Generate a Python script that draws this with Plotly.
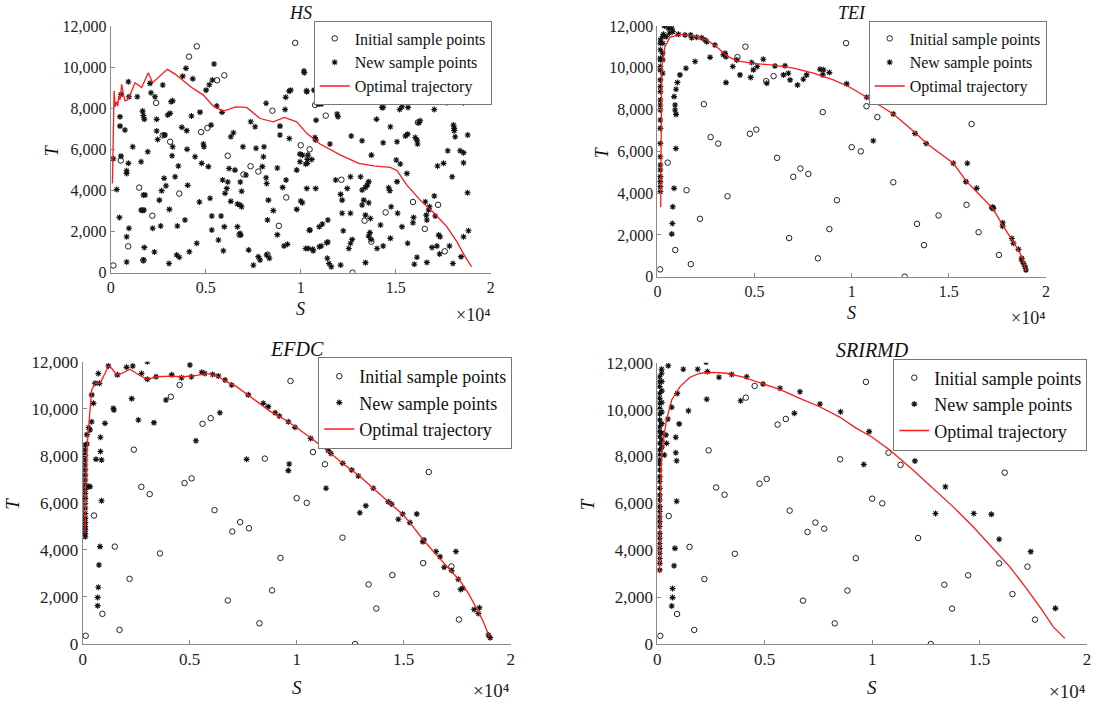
import plotly.graph_objects as go

FONT = "Liberation Serif"

# ---------------- data (S in units of 1e4) ----------------
S_init = [0.014, 0.053, 0.150, 0.092, 0.172, 0.219, 0.239, 0.274, 0.313, 0.361, 0.412, 0.453, 0.476, 0.509,
          0.560, 0.598, 0.616, 0.678, 0.699, 0.736, 0.777, 0.826, 0.851, 0.885, 0.924, 0.971, 1.000, 1.047,
          1.076, 1.132, 1.214, 1.234, 1.273, 1.336, 1.372, 1.447, 1.591, 1.617, 1.653, 1.723, 1.758, 1.802, 1.823]
T_init = [350, 5460, 4140, 1280, 600, 2770, 8260, 6680, 6370, 3850, 10510, 11010, 6840, 7040,
          9360, 9600, 5690, 1850, 4780, 5180, 4920, 880, 7880, 2280, 3660, 11180, 6200, 6000,
          8160, 7640, 4520, 8750, 0, 2530, 1510, 2930, 3440, 7310, 2130, 3300, 1040, 8920, 8450]

HS_new = [(0.014, 5540), (0.032, 4050), (0.046, 2690), (0.049, 7590), (0.049, 7130), (0.054, 5670), (0.075, 6940),
          (0.084, 4960), (0.084, 4830), (0.093, 5320), (0.093, 9290), (0.084, 1750), (0.096, 2160), (0.084, 520),
          (0.096, 8560), (0.054, 8670), (0.116, 6130), (0.140, 8560), (0.160, 5400), (0.168, 7860), (0.172, 7650),
          (0.177, 7470), (0.172, 3780), (0.181, 3780), (0.160, 3050), (0.168, 3020), (0.175, 3050), (0.177, 1230),
          (0.172, 620), (0.195, 5880), (0.207, 9210), (0.212, 8750), (0.233, 8560), (0.221, 2160), (0.230, 1010),
          (0.242, 7460), (0.242, 6890), (0.247, 6480), (0.256, 3530), (0.263, 2270), (0.268, 3990), (0.274, 9130),
          (0.281, 6700), (0.286, 6700), (0.281, 4590), (0.291, 4230), (0.300, 7670), (0.307, 450), (0.309, 3080),
          (0.312, 7750), (0.318, 8320), (0.326, 8360), (0.326, 6130), (0.323, 5690), (0.339, 4670), (0.351, 2270),
          (0.356, 5190), (0.347, 860), (0.361, 750), (0.374, 7070), (0.379, 9560), (0.391, 2560), (0.396, 9940),
          (0.400, 6910), (0.405, 4250), (0.402, 6000), (0.414, 1020), (0.425, 7620), (0.432, 9430), (0.444, 5640),
          (0.453, 1430), (0.467, 3440), (0.470, 7810), (0.479, 5320), (0.488, 6260), (0.491, 6130), (0.502, 8880),
          (0.514, 5160), (0.519, 9140), (0.523, 3620), (0.528, 7180), (0.532, 2760), (0.532, 2080), (0.535, 9370),
          (0.544, 10150), (0.558, 8110), (0.567, 1590), (0.581, 2760), (0.586, 7800), (0.593, 1070), (0.589, 4510),
          (0.598, 2240), (0.602, 3860), (0.611, 4100), (0.616, 4410), (0.623, 5070), (0.632, 3470), (0.632, 6610),
          (0.646, 6810), (0.654, 4990), (0.667, 2240), (0.667, 3340), (0.681, 3290), (0.689, 3210), (0.682, 4410),
          (0.689, 3960), (0.681, 1910), (0.684, 1830), (0.696, 6130), (0.712, 4750), (0.726, 1100), (0.737, 7340),
          (0.760, 7100), (0.751, 360), (0.765, 6050), (0.777, 780), (0.786, 620), (0.798, 5160), (0.804, 5640),
          (0.807, 6130), (0.818, 8240), (0.818, 4620), (0.821, 4340), (0.825, 2560), (0.830, 3530), (0.821, 860),
          (0.835, 700), (0.856, 3020), (0.877, 5090), (0.877, 1850), (0.891, 7130), (0.891, 6700), (0.905, 4150),
          (0.912, 1300), (0.918, 7940), (0.921, 8530), (0.923, 4510), (0.930, 1380), (0.940, 6530), (0.939, 8830),
          (0.947, 8880), (0.979, 4990), (0.979, 3080), (0.996, 5770), (0.996, 5400), (1.000, 3490), (1.009, 3400),
          (1.019, 9730), (1.026, 5290), (1.032, 4100), (1.032, 8800), (1.040, 1180), (1.046, 2060), (1.058, 5510),
          (1.063, 1140), (1.075, 6580), (1.070, 8880), (1.081, 7420), (1.098, 1260), (1.098, 2240),
          (1.017, 9810), (1.031, 8850), (1.082, 8800), (1.091, 8200), (1.108, 8200), (1.157, 8430), (1.192, 7720),
          (1.196, 7590), (1.154, 6260), (1.079, 6450), (1.009, 5720), (1.035, 5510), (1.035, 5320), (1.038, 5720),
          (1.079, 4100), (1.184, 4510), (1.210, 3810), (1.218, 3530), (1.262, 4670), (1.266, 6650), (1.323, 6420),
          (1.245, 4100), (1.218, 2890), (1.262, 2890), (1.315, 4670), (1.323, 4020), (1.341, 4150), (1.350, 4260),
          (1.358, 4430), (1.332, 3530), (1.358, 3400), (1.323, 3290), (1.341, 2800), (1.372, 5720), (1.399, 7460),
          (1.428, 8040), (1.434, 6320), (1.434, 8040), (1.463, 4130), (1.472, 7100), (1.498, 8850), (1.503, 5480),
          (1.507, 6370), (1.521, 7940), (1.533, 8070), (1.565, 8040), (1.551, 6650), (1.563, 6740), (1.603, 6580),
          (1.612, 6450), (1.615, 6260), (1.617, 8530), (1.621, 7290), (1.629, 7390), (1.524, 5290), (1.559, 4830),
          (1.507, 4430), (1.469, 3990), (1.476, 3210), (1.420, 2320), (1.510, 2890), (1.533, 2240), (1.594, 2690),
          (1.591, 2430), (1.661, 2800), (1.673, 3050), (1.678, 3210), (1.664, 2560), (1.656, 3450), (1.703, 3730),
          (1.708, 2760), (1.685, 8430), (1.703, 7940), (1.769, 8270), (1.801, 8400), (1.818, 8560), (1.857, 8270),
          (1.836, 8850), (1.804, 7180), (1.808, 7020), (1.808, 6910), (1.813, 6610), (1.879, 6700), (1.774, 5930),
          (1.839, 5930), (1.857, 5840), (1.857, 5350), (1.720, 5190), (1.752, 5320), (1.797, 4670), (1.878, 3890),
          (1.726, 1830), (1.734, 1750), (1.857, 1750), (1.883, 2040), (1.783, 1300), (1.717, 1300), (1.691, 1230),
          (1.731, 910), (1.844, 780), (1.801, 450), (1.664, 500), (1.612, 750), (1.598, 410), (1.563, 1430),
          (1.472, 1670), (1.434, 1300), (1.402, 1180), (1.358, 1780), (1.341, 490), (1.262, 1430), (1.253, 1180),
          (1.210, 370), (1.161, 290), (1.149, 450), (1.140, 700), (1.136, 1460), (1.143, 1490), (1.108, 1300),
          (1.066, 1070), (1.026, 1180), (1.049, 2080), (1.143, 2560), (1.114, 2370), (1.224, 2040), (1.271, 1620),
          (1.367, 2640), (1.371, 1620), (1.364, 1950)]

HS_traj = [(0.009, 4340), (0.012, 6450), (0.018, 8850), (0.023, 8070), (0.032, 8320), (0.037, 8100),
           (0.042, 8590), (0.049, 8400), (0.058, 9160), (0.063, 8880), (0.075, 8360), (0.088, 8400),
           (0.102, 8640), (0.128, 9240), (0.163, 9010), (0.198, 9730), (0.221, 9240), (0.251, 9500),
           (0.298, 9890), (0.339, 9660), (0.379, 9370), (0.426, 9010), (0.488, 8640), (0.540, 8100),
           (0.593, 7860), (0.658, 8070), (0.716, 8040), (0.786, 7500), (0.856, 7340), (0.914, 7550),
           (0.979, 7340), (1.032, 6780), (1.102, 6260), (1.210, 5720), (1.306, 5320), (1.385, 5200),
           (1.472, 5120), (1.507, 4960), (1.559, 4260), (1.629, 3530), (1.699, 2930), (1.769, 2240),
           (1.822, 1510), (1.865, 780), (1.900, 290)]

TEI_new = [(0.015, 4070), (0.015, 4310), (0.015, 4550), (0.015, 4790), (0.015, 5110), (0.015, 5350),
           (0.015, 5740), (0.015, 6380), (0.015, 7100), (0.015, 7500), (0.015, 7980), (0.015, 8220),
           (0.015, 8460), (0.015, 8860), (0.015, 9100), (0.015, 9420), (0.015, 9900), (0.015, 10060),
           (0.015, 10380), (0.015, 10460), (0.015, 10860), (0.015, 11170), (0.015, 11330),
           (0.027, 9740), (0.027, 10380), (0.027, 10700), (0.027, 11170), (0.027, 11490),
           (0.036, 12000), (0.056, 11890), (0.074, 11890), (0.079, 11730), (0.062, 11650), (0.045, 11490),
           (0.031, 11600), (0.074, 2040), (0.077, 2550), (0.079, 3350), (0.086, 4230), (0.095, 6140),
           (0.096, 7770), (0.091, 7980), (0.091, 8220), (0.086, 8620), (0.096, 8970), (0.103, 9300),
           (0.116, 9660), (0.147, 9980), (0.194, 10300), (0.271, 10500), (0.353, 9290), (0.340, 10620),
           (0.388, 10060), (0.425, 9660), (0.480, 9540), (0.494, 9900), (0.485, 10250), (0.514, 10060),
           (0.545, 10410), (0.563, 9260), (0.605, 10090), (0.649, 9660), (0.657, 10100), (0.683, 9420),
           (0.674, 9740), (0.721, 9180), (0.751, 9450), (0.768, 9660), (0.837, 9930), (0.854, 9900),
           (0.851, 9660), (0.885, 9770), (0.974, 9230), (0.108, 11600), (0.142, 11570), (0.171, 11570),
           (0.176, 11440), (0.202, 11460), (0.228, 11440), (0.245, 11330), (0.254, 11250), (0.296, 11090),
           (0.348, 10690), (0.353, 10530), (0.408, 10370), (1.077, 8590), (1.111, 6510), (1.214, 7790),
           (1.326, 6860), (1.383, 6380), (1.523, 5430), (1.595, 5430), (1.588, 4550), (1.643, 4230),
           (1.726, 3320), (1.729, 3270), (1.777, 2580), (1.777, 2420), (1.824, 1830), (1.832, 1600),
           (1.858, 1310), (1.875, 880), (1.884, 640), (1.892, 480), (1.897, 320), (1.875, 800)]

TEI_traj = [(0.017, 3320), (0.018, 5000), (0.020, 8000), (0.022, 10060), (0.039, 11010), (0.065, 11460),
            (0.116, 11600), (0.185, 11520), (0.254, 11330), (0.305, 11010), (0.357, 10570), (0.408, 10330),
            (0.494, 10210), (0.597, 10130), (0.700, 9980), (0.803, 9740), (0.906, 9420), (0.991, 9070),
            (1.077, 8590), (1.214, 7790), (1.326, 6900), (1.386, 6380), (1.523, 5430), (1.592, 4550),
            (1.643, 4070), (1.726, 3270), (1.777, 2470), (1.829, 1720), (1.863, 1200), (1.884, 720),
            (1.897, 290)]

EFDC_new = [(0.012, 4560), (0.012, 4700), (0.012, 4850), (0.012, 4990), (0.012, 5160), (0.012, 5340),
            (0.012, 5550), (0.012, 5770), (0.012, 5980), (0.012, 6190), (0.012, 6400), (0.012, 6570),
            (0.012, 6760), (0.012, 6970), (0.012, 7180), (0.012, 7400), (0.012, 7610), (0.012, 7820),
            (0.012, 8030), (0.012, 8250), (0.012, 8460), (0.020, 8500), (0.020, 8900), (0.028, 9200),
            (0.026, 6690), (0.034, 6690), (0.000, 8030), (0.034, 9100), (0.042, 9450), (0.050, 10230),
            (0.042, 10590), (0.058, 11080), (0.073, 11500), (0.078, 11080), (0.062, 7850), (0.083, 8790),
            (0.083, 8180), (0.088, 7820), (0.088, 6090), (0.081, 4140), (0.076, 3360), (0.073, 2410),
            (0.070, 1980), (0.070, 1630), (0.104, 9380), (0.120, 11820), (0.143, 10020), (0.146, 9950),
            (0.162, 11440), (0.205, 11760), (0.229, 10430), (0.234, 11820), (0.260, 9520), (0.275, 11500),
            (0.302, 12000), (0.302, 11250), (0.333, 9410), (0.343, 11360), (0.389, 10370), (0.416, 11440),
            (0.462, 11320), (0.501, 11860), (0.508, 11360), (0.529, 8640), (0.556, 11550), (0.571, 11500),
            (0.607, 11460), (0.641, 9830), (0.634, 11390), (0.665, 11220), (0.696, 11010), (0.766, 7850),
            (0.774, 10590), (0.867, 10090), (0.844, 10230), (0.899, 9830), (0.919, 9690), (0.961, 9450),
            (0.992, 9210), (0.965, 7650), (0.961, 7370), (1.065, 8740), (1.137, 6620), (1.148, 8220),
            (1.160, 8100), (1.215, 7680), (1.257, 7400), (1.288, 7140), (1.295, 5580), (1.323, 5880),
            (1.358, 6620), (1.428, 6050), (1.444, 5940), (1.475, 5300), (1.495, 5530), (1.529, 5160),
            (1.561, 5530), (1.595, 4420), (1.589, 4350), (1.651, 3930), (1.670, 3710), (1.689, 3260),
            (1.724, 3120), (1.744, 3930), (1.755, 2750), (1.766, 2320), (1.776, 2370), (1.829, 1470),
            (1.854, 1540), (1.849, 1300), (1.896, 380), (1.904, 270)]

EFDC_traj = [(0.011, 4700), (0.013, 6500), (0.019, 8250), (0.031, 9660), (0.042, 10800), (0.058, 11080),
             (0.081, 11080), (0.104, 11500), (0.120, 11820), (0.135, 11720), (0.159, 11440), (0.182, 11500),
             (0.221, 11680), (0.252, 11500), (0.299, 11250), (0.346, 11360), (0.408, 11390), (0.470, 11360),
             (0.533, 11420), (0.579, 11500), (0.626, 11390), (0.673, 11150), (0.719, 10940), (0.766, 10630),
             (0.828, 10200), (0.875, 9900), (0.961, 9450), (1.062, 8790), (1.156, 8130), (1.218, 7650),
             (1.288, 7180), (1.358, 6620), (1.428, 6050), (1.498, 5480), (1.529, 5160), (1.592, 4420),
             (1.654, 3780), (1.724, 3070), (1.763, 2690), (1.802, 2150), (1.841, 1520), (1.872, 950),
             (1.900, 310)]

SRIRMD_new = [(0.011, 3160), (0.011, 3440), (0.011, 3650), (0.011, 3870), (0.011, 4080), (0.011, 4290),
              (0.011, 4510), (0.011, 4720), (0.011, 5010), (0.011, 5220), (0.011, 5430), (0.011, 5650),
              (0.011, 5860), (0.011, 6140), (0.011, 6360), (0.011, 6640), (0.011, 6930), (0.011, 7140),
              (0.011, 7420), (0.011, 7680), (0.011, 7850), (0.011, 8060), (0.011, 8280), (0.011, 8560),
              (0.011, 8840), (0.011, 9060), (0.011, 9270), (0.011, 9560), (0.011, 9810), (0.011, 10050),
              (0.011, 10270), (0.011, 10480), (0.011, 10690), (0.011, 10980), (0.011, 11190), (0.011, 11400),
              (0.020, 11550), (0.020, 11720), (0.021, 8400), (0.021, 8700), (0.021, 9000), (0.021, 9400),
              (0.021, 9900), (0.021, 10300), (0.021, 10800), (0.021, 11200), (0.051, 11870), (0.121, 11720),
              (0.188, 11720), (0.227, 12020), (0.233, 11620), (0.230, 10440), (0.287, 11380), (0.346, 11500),
              (0.416, 11400), (0.388, 10380), (0.492, 11090), (0.571, 10910), (0.638, 9840), (0.664, 10760),
              (0.757, 10240), (0.853, 9910), (0.145, 9950), (0.102, 9390), (0.086, 8820), (0.086, 8160),
              (0.090, 7820), (0.090, 6090), (0.082, 4080), (0.078, 3340), (0.071, 2370), (0.071, 1980),
              (0.067, 1620), (0.093, 10690), (0.067, 10100), (0.049, 9600), (0.040, 8920), (0.043, 8560),
              (0.033, 8060), (0.986, 9060), (0.961, 7660), (1.199, 7810), (1.341, 6710), (1.295, 5570),
              (1.473, 5570), (1.555, 5530), (1.591, 4470), (1.738, 3940), (1.853, 1520)]

SRIRMD_traj = [(0.010, 3020), (0.013, 5860), (0.017, 7570), (0.028, 8700), (0.043, 9560), (0.067, 10410),
               (0.106, 10980), (0.152, 11380), (0.199, 11550), (0.260, 11590), (0.322, 11550), (0.400, 11380),
               (0.477, 11150), (0.570, 10860), (0.663, 10480), (0.756, 10120), (0.849, 9680), (0.927, 9200),
               (0.997, 8840), (1.082, 8280), (1.190, 7420), (1.283, 6640), (1.376, 5860), (1.469, 5010),
               (1.563, 4080), (1.640, 3300), (1.718, 2370), (1.796, 1380), (1.842, 740), (1.897, 240)]

X_TICKS = [0, 0.5, 1, 1.5, 2]
X_TICKTEXT = ["0", "0.5", "1", "1.5", "2"]
Y_TICKS = [0, 2000, 4000, 6000, 8000, 10000, 12000]
Y_TICKTEXT = ["0", "2,000", "4,000", "6,000", "8,000", "10,000", "12,000"]
LEGEND_NAMES = ["Initial sample points", "New sample points", "Optimal trajectory"]

# ---------------- layout (pixels) ----------------
W, H = 1100, 705
panels = [
    dict(title="HS", new=HS_new, traj=HS_traj, box=(110.7, 490.7, 26.0, 272.7), fs=16, tfs=18, lfs=16,
         tx=52, sy=309, ey=315, leg=(491.7, 20.5)),
    dict(title="TEI", new=TEI_new, traj=TEI_traj, box=(657.4, 1046.0, 26.0, 276.7), fs=16, tfs=18, lfs=16,
         tx=602, sy=313, ey=318, leg=(1046.7, 20.5)),
    dict(title="EFDC", new=EFDC_new, traj=EFDC_traj, box=(82.7, 510.7, 361.7, 644.0), fs=17, tfs=20, lfs=18,
         tx=13, sy=687, ey=690, leg=(512.3, 357.0)),
    dict(title="SRIRMD", new=SRIRMD_new, traj=SRIRMD_traj, box=(657.3, 1087.0, 362.7, 644.0), fs=17, tfs=20,
         lfs=18, tx=587, sy=687, ey=691, leg=(1087.3, 358.5)),
]

fig = go.Figure()
annotations = []
AX = "#8a8a8a"

for i, p in enumerate(panels):
    k = "" if i == 0 else str(i + 1)
    xa, ya, lg = "x" + k, "y" + k, "legend" + k
    x0, x1, y0, y1 = p["box"]
    fig.add_trace(go.Scatter(x=S_init, y=T_init, mode="markers", name=LEGEND_NAMES[0], xaxis=xa, yaxis=ya,
                             legend=lg, marker=dict(symbol="circle-open", size=5.5, color="#222",
                                                    line=dict(width=1, color="#222"))))
    fig.add_trace(go.Scatter(x=[a for a, b in p["new"]], y=[b for a, b in p["new"]], mode="markers",
                             name=LEGEND_NAMES[1], xaxis=xa, yaxis=ya, legend=lg,
                             marker=dict(symbol="asterisk-open", size=5, color="#111",
                                         line=dict(width=1.1, color="#111"))))
    fig.add_trace(go.Scatter(x=[a for a, b in p["traj"]], y=[b for a, b in p["traj"]], mode="lines",
                             name=LEGEND_NAMES[2], xaxis=xa, yaxis=ya, legend=lg,
                             line=dict(color="#ff1a1a", width=1.3)))
    fig.layout["xaxis" + k] = dict(domain=[x0 / W, x1 / W], range=[0, 2], anchor=ya, showgrid=False,
                                   zeroline=False, showline=True, linecolor=AX, linewidth=1, ticks="inside",
                                   ticklen=4, tickcolor=AX, tickvals=X_TICKS, ticktext=X_TICKTEXT,
                                   automargin=False,
                                   tickfont=dict(family=FONT, size=p["fs"], color="#222"))
    fig.layout["yaxis" + k] = dict(domain=[1 - y1 / H, 1 - y0 / H], range=[0, 12000], anchor=xa,
                                   showgrid=False, zeroline=False, showline=True, linecolor=AX, linewidth=1,
                                   ticks="inside", ticklen=4, tickcolor=AX, tickvals=Y_TICKS,
                                   ticktext=Y_TICKTEXT, automargin=False,
                                   tickfont=dict(family=FONT, size=p["fs"], color="#222"))
    lx, ly = p["leg"]
    fig.layout[lg] = dict(x=lx / W, y=1 - ly / H, xanchor="right", yanchor="top", bgcolor="white",
                          bordercolor="#777", borderwidth=1, itemwidth=30,
                          font=dict(family=FONT, size=p["lfs"], color="#111"), tracegroupgap=0)
    cx = (x0 + x1) / 2
    annotations.append(dict(text="<i>%s</i>" % p["title"], x=cx / W, y=1 - (y0 - 13) / H, xref="paper",
                            yref="paper", showarrow=False, xanchor="center", yanchor="middle",
                            font=dict(family=FONT, size=p["tfs"], color="#111")))
    annotations.append(dict(text="<i>S</i>", x=cx / W, y=1 - p["sy"] / H, xref="paper", yref="paper",
                            showarrow=False, xanchor="center", yanchor="middle",
                            font=dict(family=FONT, size=p["fs"] + 2, color="#111")))
    annotations.append(dict(text="<i>T</i>", x=p["tx"] / W, y=1 - ((y0 + y1) / 2 + 1) / H, xref="paper",
                            yref="paper", showarrow=False, xanchor="center", yanchor="middle", textangle=-90,
                            font=dict(family=FONT, size=p["fs"] + 2, color="#111")))
    annotations.append(dict(text="×10⁴", x=(x1 + 1) / W, y=1 - p["ey"] / H, xref="paper",
                            yref="paper", showarrow=False, xanchor="right", yanchor="middle",
                            font=dict(family=FONT, size=p["fs"] + 2, color="#222")))

fig.update_layout(width=W, height=H, margin=dict(l=0, r=0, t=0, b=0, autoexpand=False),
                  plot_bgcolor="white", paper_bgcolor="white", annotations=annotations, showlegend=True)
fig.write_html("out.html")
